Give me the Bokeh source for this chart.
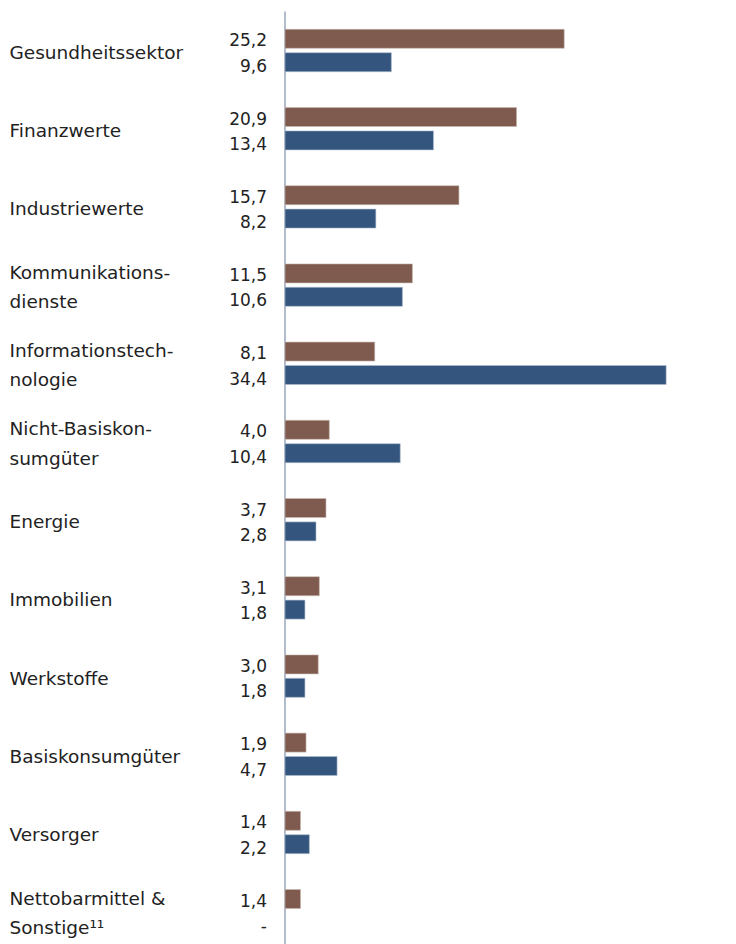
from bokeh.plotting import figure
from bokeh.models import ColumnDataSource, Range1d
from bokeh.core.properties import value
from bokeh.embed import file_html
from bokeh.resources import INLINE

categories = ["Gesundheitssektor", "Finanzwerte", "Industriewerte",
              "Kommunikations-\ndienste", "Informationstech-\nnologie",
              "Nicht-Basiskon-\nsumgüter", "Energie", "Immobilien", "Werkstoffe",
              "Basiskonsumgüter", "Versorger", "Nettobarmittel &\nSonstige¹¹"]
series_a = [25.2, 20.9, 15.7, 11.5, 8.1, 4.0, 3.7, 3.1, 3.0, 1.9, 1.4, 1.4]
series_b = [9.6, 13.4, 8.2, 10.6, 34.4, 10.4, 2.8, 1.8, 1.8, 4.7, 2.2, None]

BROWN = "#7f5b4f"
BLUE = "#34567e"
FONT = "DejaVu Sans"

W, H = 730, 944
x0_px = 284.5
px_per_unit = 11.08
x_start = -x0_px / px_per_unit
x_end = (W - x0_px) / px_per_unit
y0_px = 50.0
pitch = 78.2
y_top = -y0_px / pitch
y_bot = (H - y0_px) / pitch

p = figure(width=W, height=H, output_backend="svg", toolbar_location=None,
           x_range=Range1d(x_start, x_end), y_range=Range1d(y_bot, y_top),
           min_border=0, outline_line_color=None)
p.xaxis.visible = False
p.yaxis.visible = False
p.xgrid.visible = False
p.ygrid.visible = False
p.background_fill_color = "white"

idx = list(range(len(categories)))
off = 11.7 / pitch
bh = 19.0 / pitch

a_src = ColumnDataSource(dict(y=[i - off for i in idx], v=series_a,
                              lab=[f"{v:.1f}".replace(".", ",") for v in series_a]))
b_lab_src = ColumnDataSource(dict(y=[i + off for i in idx],
                                  lab=[f"{v:.1f}".replace(".", ",") if v is not None else "-" for v in series_b]))
b_bar_src = ColumnDataSource(dict(y=[i + off for i, v in zip(idx, series_b) if v is not None],
                                  v=[v for v in series_b if v is not None]))

# baseline axis line
p.segment(x0=0, y0=-0.5, x1=0, y1=y_bot, line_color="#b3bccb", line_width=2)

p.hbar(y="y", left=0, right="v", height=bh, source=a_src, fill_color=BROWN,
       line_color="#c9b8b2", line_width=0.6)
p.hbar(y="y", left=0, right="v", height=bh, source=b_bar_src,
       fill_color=BLUE, line_color="#aebccd", line_width=0.6)

p.text(x=0, y="y", text="lab", source=a_src, text_align="right", text_baseline="middle",
       x_offset=-18, y_offset=1, text_font=value(FONT), text_font_size="17px", text_color="#222222")
p.text(x=0, y="y", text="lab", source=b_lab_src, text_align="right", text_baseline="middle",
       x_offset=-18, y_offset=3, text_font=value(FONT), text_font_size="17px", text_color="#222222")

cat_src = ColumnDataSource(dict(y=idx, t=categories))
p.text(x=x_start, y="y", text="t", source=cat_src, text_align="left", text_baseline="middle",
       x_offset=9, y_offset=2, text_font=value(FONT), text_font_size="18.5px", text_color="#222222",
       text_line_height=1.4)

open("out.html", "w").write(file_html(p, INLINE))
